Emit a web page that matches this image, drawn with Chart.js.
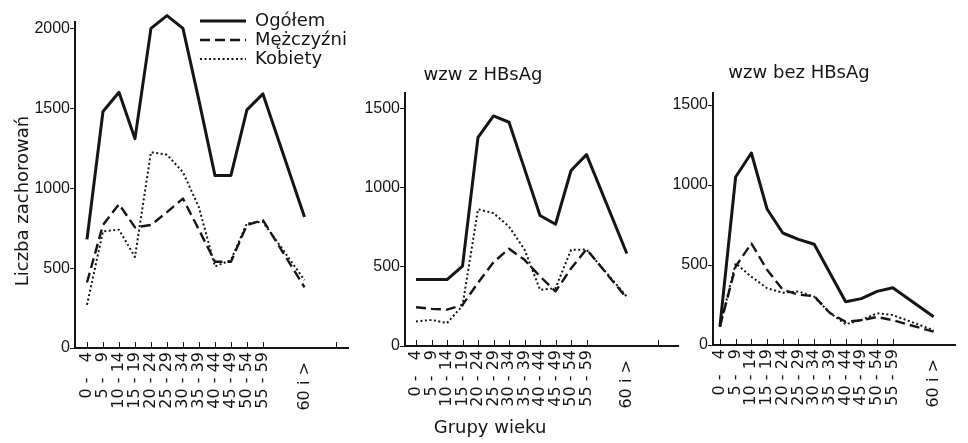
<!DOCTYPE html>
<html>
<head>
<meta charset="utf-8">
<title>Zachorowania na wzw wg grup wieku</title>
<script src="https://cdn.jsdelivr.net/npm/chart.js@4.4.1/dist/chart.umd.min.js"></script>
<style>
  body { margin: 0; background: #fff; }
  #wrap { position: relative; width: 968px; height: 443px; }
  #wrap canvas { position: absolute; left: 0; top: 0; }
</style>
</head>
<body>
<div id="wrap">
  <canvas id="chartAll" width="968" height="443"></canvas>
  <canvas id="chartHbs" width="968" height="443"></canvas>
  <canvas id="chartNoHbs" width="968" height="443"></canvas>
</div>
<script>
// age groups (x axis) and the representative age used to place them
const ageGroups = ["0 - \u20074", "5 - \u20079", "10 - 14", "15 - 19", "20 - 24", "25 - 29", "30 - 34",
  "35 - 39", "40 - 44", "45 - 49", "50 - 54", "55 - 59", "60 i >\u2007"];
const ageMid = [2, 7, 12, 17, 22, 27, 32, 37, 42, 47, 52, 57, 70];

// wzw ogolem
const allTotal = [680, 1480, 1600, 1310, 2000, 2080, 2000, 1550, 1080, 1080, 1490, 1590, 820];
const allMen = [410, 770, 900, 755, 770, 850, 935, 740, 540, 540, 770, 800, 380];
const allWomen = [270, 730, 740, 570, 1225, 1210, 1100, 880, 510, 550, 780, 790, 425];

// wzw z HBsAg
const hbsTotal = [420, 420, 420, 505, 1320, 1455, 1415, 1120, 825, 770, 1110, 1210, 585];
const hbsMen = [245, 235, 230, 260, 400, 530, 615, 545, 440, 345, 490, 612, 302];
const hbsWomen = [155, 165, 145, 255, 865, 840, 755, 610, 355, 365, 608, 610, 312];

// wzw bez HBsAg
const noHbsTotal = [115, 1050, 1200, 850, 700, 660, 630, 450, 270, 290, 335, 358, 177];
const noHbsMen = [115, 490, 635, 470, 345, 315, 305, 200, 145, 155, 175, 155, 83];
const noHbsWomen = [115, 510, 427, 355, 327, 335, 302, 200, 130, 156, 198, 187, 93];

const yTicks = [0, 500, 1000, 1500, 2000];

const ink = "#151515";
const textFont = { family: "DejaVu Sans", size: 18 };

function points(values) {
  return ageMid.map((a, i) => ({ x: a, y: values[i] }));
}

function series(total, men, women) {
  const base = { pointRadius: 0, tension: 0, fill: false, clip: false, borderColor: ink, borderJoinStyle: "round" };
  return [
    { ...base, label: "Ogółem", data: points(total), borderWidth: 3 },
    { ...base, label: "Mężczyźni", data: points(men), borderWidth: 2.4, borderDash: [10, 5] },
    { ...base, label: "Kobiety", data: points(women), borderWidth: 2, borderDash: [2, 2.5] },
  ];
}

// plain text placed on the canvas (titles)
function textPlugin(items) {
  return {
    id: "freeText",
    afterDraw(chart) {
      const ctx = chart.ctx;
      ctx.save();
      ctx.fillStyle = ink;
      ctx.font = textFont.size + "px " + textFont.family;
      ctx.textAlign = "center";
      ctx.textBaseline = "alphabetic";
      items.forEach((t) => {
        ctx.save();
        ctx.translate(t.x, t.y);
        if (t.rotate) ctx.rotate(-Math.PI / 2);
        ctx.fillText(t.text, 0, 0);
        ctx.restore();
      });
      ctx.restore();
    },
  };
}

// small tick marks standing inside the plot on the x axis
function innerTicks(values) {
  return {
    id: "innerTicks",
    afterDraw(chart) {
      const xs = chart.scales.x;
      const ctx = chart.ctx;
      ctx.save();
      ctx.strokeStyle = ink;
      ctx.lineWidth = 1;
      values.forEach((v) => {
        const px = Math.round(xs.getPixelForValue(v)) + 0.5;
        ctx.beginPath();
        ctx.moveTo(px, xs.top - 6);
        ctx.lineTo(px, xs.top);
        ctx.stroke();
      });
      ctx.restore();
    },
  };
}

// moves the legend to the top of the first panel
const legendPlace = {
  id: "legendPlace",
  afterLayout(chart) {
    const lg = chart.legend;
    lg.left = 199;
    lg.top = 11;
    lg.width = 180;
    lg.height = 70;
    lg.right = lg.left + lg.width;
    lg.bottom = lg.top + lg.height;
  },
};

function legendItems(chart) {
  return chart.data.datasets.map((ds, i) => ({
    text: ds.label,
    datasetIndex: i,
    fillStyle: ink,
    strokeStyle: ink,
    fontColor: ink,
    lineWidth: ds.borderWidth,
    lineDash: ds.borderDash || [],
    pointStyle: "line",
    textAlign: "left",
  }));
}

function makeChart(id, opts) {
  const ctx = document.getElementById(id);
  return new Chart(ctx, {
    type: "line",
    data: { datasets: series(opts.total, opts.men, opts.women) },
    plugins: opts.plugins,
    options: {
      responsive: false,
      animation: false,
      devicePixelRatio: 1,
      layout: { padding: opts.padding },
      plugins: {
        tooltip: { enabled: false },
        legend: {
          display: !!opts.legend,
          position: "chartArea",
          align: "start",
          labels: {
            usePointStyle: true,
            pointStyle: "line",
            pointStyleWidth: 46,
            padding: 1,
            textAlign: "left",
            color: ink,
            font: textFont,
            generateLabels: legendItems,
          },
        },
      },
      scales: {
        x: {
          type: "linear",
          min: opts.xMin,
          max: opts.xMax,
          afterFit: (s) => { s.height = 80; },
          afterBuildTicks: (s) => { s.ticks = ageMid.map((v) => ({ value: v })); },
          grid: { drawOnChartArea: false, drawTicks: false },
          border: { color: ink, width: 2 },
          ticks: {
            autoSkip: false,
            minRotation: 90,
            maxRotation: 90,
            padding: 4,
            color: ink,
            font: { family: "DejaVu Sans", size: 16 },
            callback: (v, i) => ageGroups[i],
          },
        },
        y: {
          min: 0,
          max: opts.yMax,
          afterFit: (s) => { s.width = 40; },
          afterBuildTicks: (s) => { s.ticks = yTicks.filter((v) => v <= opts.yMax).map((v) => ({ value: v })); },
          grid: { drawOnChartArea: false, drawTicks: true, tickLength: 5, color: ink },
          border: { color: ink, width: 2 },
          ticks: {
            padding: 0,
            color: ink,
            font: { family: "Liberation Sans", size: 16 },
            callback: (v) => String(v),
          },
        },
      },
    },
  });
}

makeChart("chartAll", {
  total: allTotal, men: allMen, women: allWomen,
  padding: { left: 35, top: 22, right: 620, bottom: 15 },
  xMin: -1.75, xMax: 83.6, yMax: 2040,
  legend: true,
  plugins: [
    legendPlace,
    innerTicks([...ageMid.slice(0, 12), 80]),
    textPlugin([{ text: "Liczba zachorowań", x: 28, y: 201, rotate: true }]),
  ],
});

makeChart("chartHbs", {
  total: hbsTotal, men: hbsMen, women: hbsWomen,
  padding: { left: 365, top: 93, right: 290, bottom: 17 },
  xMin: -1.55, xMax: 86.5, yMax: 1600,
  plugins: [
    innerTicks([...ageMid.slice(0, 12), 80]),
    textPlugin([
      { text: "wzw z HBsAg", x: 483, y: 80 },
      { text: "Grupy wieku", x: 490, y: 433 },
    ]),
  ],
});

makeChart("chartNoHbs", {
  total: noHbsTotal, men: noHbsMen, women: noHbsWomen,
  padding: { left: 673, top: 93, right: 13, bottom: 18 },
  xMin: -0.2, xMax: 76.8, yMax: 1575,
  plugins: [
    innerTicks(ageMid.slice(0, 12)),
    textPlugin([{ text: "wzw bez HBsAg", x: 799, y: 78 }]),
  ],
});
</script>
</body>
</html>
